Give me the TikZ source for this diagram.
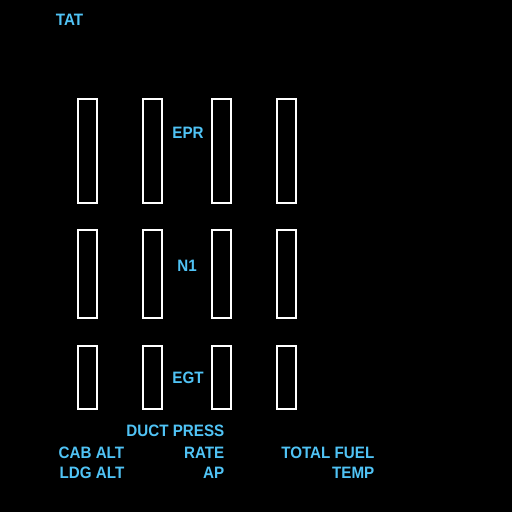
\documentclass[tikz,border=0pt]{standalone}
\usepackage{fontspec}
\setmainfont{Liberation Sans}
\newfontfamily\eicasfont[FakeStretch=0.92]{Liberation Sans}
\usepackage{tikz}
\definecolor{eicasblue}{RGB}{80,195,245}

\begin{document}
\begin{tikzpicture}[x=1bp, y=-1bp,
    gauge/.style={draw=white, line width=2.2bp, minimum width=19bp, inner sep=0pt},
    caption/.style={text=eicasblue, font=\eicasfont\bfseries\fontsize{16.5bp}{16.5bp}\selectfont, inner sep=0pt}]
        % Background
        \fill[black] (0,0) rectangle (512,512);
        \useasboundingbox (0,0) rectangle (512,512);
        % Draw the gauge bars
        \foreach \n/\x in {1/87.5, 2/152.5, 3/221.5, 4/286.5}{
            \node[gauge, minimum height=104bp] (epr\n) at (\x,151) {};
            \node[gauge, minimum height=88bp] (none\n) at (\x,274) {};
            \node[gauge, minimum height=63bp] (egt\n) at (\x,377.5) {};
        }
        % Draw the gauge captions
        \node[caption] (tat) at (69.5,19.5) {TAT};
        \node[caption] (epr) at (188,133) {EPR};
        \node[caption] (none) at (187,265.5) {N1};
        \node[caption] (egt) at (188,378) {EGT};
        % Draw the lower captions
        \node[caption, anchor=east] (duct) at (224.5,430.5) {DUCT PRESS};
        \node[caption, anchor=west] (cabalt) at (58.5,453) {CAB ALT};
        \node[caption, anchor=east] (rate) at (224.5,453) {RATE};
        \node[caption, anchor=west] (ldgalt) at (59.5,473) {LDG ALT};
        \node[caption, anchor=east] (ap) at (224.5,473) {AP};
        \node[caption, anchor=east] (fuel) at (374.5,453) {TOTAL FUEL};
        \node[caption, anchor=east] (temp) at (374.5,473) {TEMP};
    \end{tikzpicture}
\end{document}
